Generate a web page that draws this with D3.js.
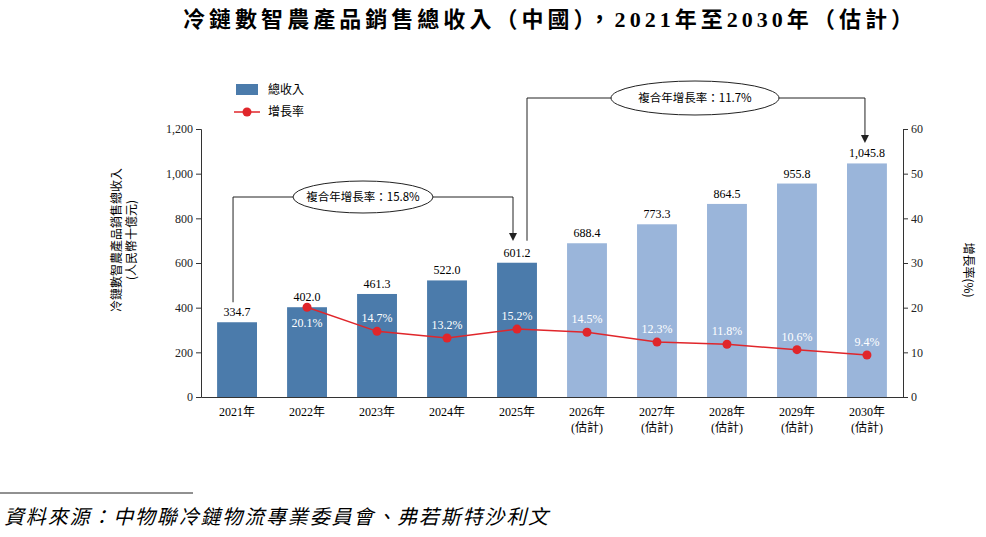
<!DOCTYPE html><html><head><meta charset="utf-8">
<script src="https://cdn.jsdelivr.net/npm/d3@7"></script>
<style>body{margin:0;background:#fff}text{font-family:"Liberation Serif","Noto Serif","Noto Sans CJK SC",serif}</style></head><body>
<script>
const years=["2021年","2022年","2023年","2024年","2025年","2026年","2027年","2028年","2029年","2030年"];
const estimated=[false,false,false,false,false,true,true,true,true,true];
const revenue=[334.7,402.0,461.3,522.0,601.2,688.4,773.3,864.5,955.8,1045.8];
const growth=[null,20.1,14.7,13.2,15.2,14.5,12.3,11.8,10.6,9.4];
const leftTicks=[0,200,400,600,800,1000,1200];
const rightTicks=[0,10,20,30,40,50,60];
const W=986,H=537;
const svg=d3.select("body").append("svg").attr("width",W).attr("height",H);
const x=d3.scaleBand().domain(years).range([201,903]).paddingInner(0.43).paddingOuter(0.23);
const y=d3.scaleLinear().domain([0,1200]).range([397,129]);
const y2=d3.scaleLinear().domain([0,60]).range([397,129]);
const cjk='"Noto Sans CJK TC","Noto Sans CJK SC",sans-serif';
svg.append("text").attr("x",548).attr("y",27).attr("text-anchor","middle").attr("font-size",22).attr("font-weight","bold").attr("textLength",730).style("font-family",'"Liberation Serif","Noto Sans CJK TC",serif').text("冷鏈數智農產品銷售總收入（中國），2021年至2030年（估計）");
const ga=svg.append("g").attr("transform","translate(201,0)").call(d3.axisLeft(y).tickValues(leftTicks).tickFormat(d3.format(",")).tickSize(5));
const gb=svg.append("g").attr("transform","translate(903,0)").call(d3.axisRight(y2).tickValues(rightTicks).tickSize(5));
const gx=svg.append("g").attr("transform","translate(0,397)").call(d3.axisBottom(x).tickSize(0).tickFormat(""));
[ga,gb,gx].forEach(g=>{g.selectAll("path,line").attr("stroke","#333");g.selectAll("text").attr("font-size",12).attr("fill","#222").style("font-family",'"Liberation Serif",serif');});
years.forEach((d,i)=>{const t=svg.append("text").attr("x",x(d)+x.bandwidth()/2).attr("y",416).attr("text-anchor","middle").attr("font-size",12).style("font-family",'"Liberation Serif","Noto Sans CJK TC",serif');
 t.append("tspan").text(d);
 if(estimated[i]) t.append("tspan").attr("x",x(d)+x.bandwidth()/2).attr("dy",16).text("(估計)");});
svg.selectAll(".bar").data(revenue).join("rect").attr("x",(d,i)=>x(years[i])).attr("width",x.bandwidth()).attr("y",d=>y(d)).attr("height",d=>397-y(d)).attr("fill",(d,i)=>estimated[i]?"#9ab5da":"#4b7bab");
svg.selectAll(".bl").data(revenue).join("text").attr("x",(d,i)=>x(years[i])+x.bandwidth()/2).attr("y",d=>y(d)-6).attr("text-anchor","middle").attr("font-size",12).text(d=>d3.format(",.1f")(d));
const pts=growth.map((g,i)=>g==null?null:[x(years[i])+x.bandwidth()/2,y2(g)]).filter(p=>p);
svg.append("path").attr("d",d3.line()(pts)).attr("fill","none").attr("stroke","#e0262b").attr("stroke-width",1.5);
svg.selectAll(".pt").data(pts).join("circle").attr("cx",d=>d[0]).attr("cy",d=>d[1]).attr("r",4.5).attr("fill","#e0262b");
growth.forEach((g,i)=>{if(g==null)return;svg.append("text").attr("x",x(years[i])+x.bandwidth()/2).attr("y",i==1?y2(g)+20:y2(g)-9).attr("text-anchor","middle").attr("font-size",12).attr("fill","#fff").text(g.toFixed(1)+"%");});
const lt=svg.append("text").attr("transform","translate(121,240) rotate(-90)").attr("text-anchor","middle").attr("font-size",12).style("font-family",cjk);
lt.append("tspan").attr("x",0).text("冷鏈數智農產品銷售總收入");lt.append("tspan").attr("x",0).attr("dy",15).text("(人民幣十億元)");
svg.append("text").attr("transform","translate(964,270) rotate(90)").attr("text-anchor","middle").attr("font-size",12).style("font-family",cjk).text("增長率(%)");
svg.append("rect").attr("x",236).attr("y",84).attr("width",22).attr("height",11).attr("fill","#4b7bab");
svg.append("text").attr("x",268).attr("y",94).attr("font-size",12).style("font-family",cjk).text("總收入");
svg.append("line").attr("x1",234).attr("x2",260).attr("y1",112).attr("y2",112).attr("stroke","#e0262b").attr("stroke-width",1.5);
svg.append("circle").attr("cx",247).attr("cy",112).attr("r",4.5).attr("fill","#e0262b");
svg.append("text").attr("x",268).attr("y",116).attr("font-size",12).style("font-family",cjk).text("增長率");
const cx=i=>x(years[i])+x.bandwidth()/2;
function arrow(xx,yy){svg.append("path").attr("d",`M${xx-4},${yy-8}L${xx+4},${yy-8}L${xx},${yy}Z`).attr("fill","#222");}
svg.append("path").attr("d",`M${cx(0)-4},${y(revenue[0])-20}V197H${cx(4)-4}V238`).attr("fill","none").attr("stroke","#222");
arrow(cx(4)-4,241);
svg.append("ellipse").attr("cx",363).attr("cy",197).attr("rx",70).attr("ry",16).attr("fill","#fff").attr("stroke","#222");
svg.append("text").attr("x",363).attr("y",201).attr("text-anchor","middle").attr("font-size",11.5).style("font-family",cjk).text("複合年增長率：15.8%");
svg.append("path").attr("d",`M${cx(4)+10},${y(revenue[4])-22}V98H${cx(9)-2}V140`).attr("fill","none").attr("stroke","#222");
arrow(cx(9)-2,143);
svg.append("ellipse").attr("cx",695).attr("cy",98).attr("rx",84).attr("ry",17).attr("fill","#fff").attr("stroke","#222");
svg.append("text").attr("x",695).attr("y",102).attr("text-anchor","middle").attr("font-size",11.5).style("font-family",cjk).text("複合年增長率：11.7%");
svg.append("line").attr("x1",0).attr("x2",193).attr("y1",493).attr("y2",493).attr("stroke","#222");
svg.append("text").attr("x",4).attr("y",524).attr("font-size",20).attr("font-style","italic").attr("textLength",544).style("font-family",cjk).text("資料來源：中物聯冷鏈物流專業委員會、弗若斯特沙利文");
</script></body></html>
